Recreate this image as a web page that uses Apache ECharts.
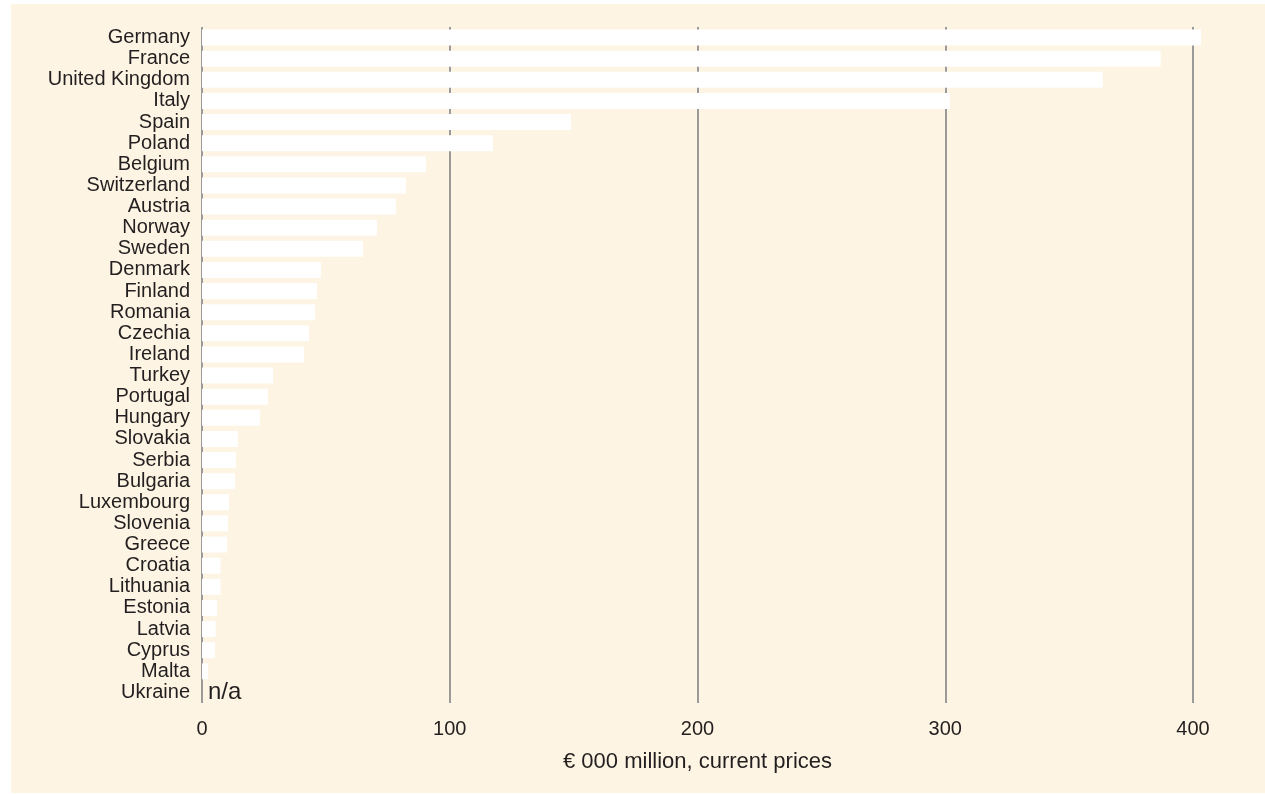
<!DOCTYPE html>
<html>
<head>
<meta charset="utf-8">
<script src="https://cdn.jsdelivr.net/npm/echarts@6/dist/echarts.min.js"></script>
<style>
  html, body { margin: 0; padding: 0; background: #ffffff; width: 1265px; height: 794px; overflow: hidden; }
  #chart { position: absolute; left: 11px; top: 4px; width: 1254px; height: 789px; }
</style>
</head>
<body>
<div id="chart"></div>
<script>
const countries = ["Germany", "France", "United Kingdom", "Italy", "Spain", "Poland", "Belgium", "Switzerland", "Austria", "Norway", "Sweden", "Denmark", "Finland", "Romania", "Czechia", "Ireland", "Turkey", "Portugal", "Hungary", "Slovakia", "Serbia", "Bulgaria", "Luxembourg", "Slovenia", "Greece", "Croatia", "Lithuania", "Estonia", "Latvia", "Cyprus", "Malta", "Ukraine"];
const values = [403.2, 387.0, 363.6, 301.9, 148.9, 117.4, 90.4, 82.3, 78.3, 70.6, 65.0, 48.0, 46.4, 45.6, 43.2, 41.2, 28.7, 26.6, 23.4, 14.5, 13.7, 13.3, 10.9, 10.5, 10.1, 7.5, 7.5, 6.1, 5.5, 5.2, 2.4, null];
const xTicks = [0, 100, 200, 300, 400];
const axisTitle = "€ 000 million, current prices";
const missingText = "n/a";

const FONT = "'Liberation Sans', Arial, sans-serif";
const TEXT = '#231f20';

const barData = values.map(v => v === null
  ? { value: 0, label: { show: true, position: 'right', distance: 6, formatter: missingText, fontSize: 24, color: TEXT, fontFamily: FONT } }
  : v);

const chart = echarts.init(document.getElementById('chart'), null, { renderer: 'canvas' });
chart.setOption({
  backgroundColor: '#fdf4e3',
  animation: false,
  textStyle: { fontFamily: FONT, color: TEXT },
  grid: { left: 191, right: 72, top: 23, bottom: 90, containLabel: false },
  xAxis: {
    type: 'value',
    min: xTicks[0],
    max: xTicks[xTicks.length - 1],
    interval: xTicks[1] - xTicks[0],
    axisLine: { show: false },
    axisTick: { show: false },
    axisLabel: { fontSize: 20, color: TEXT, margin: 16, fontFamily: FONT },
    splitLine: { show: true, lineStyle: { color: '#9a9a9a', width: 2 } },
    name: axisTitle,
    nameLocation: 'middle',
    nameGap: 48,
    nameTextStyle: { fontSize: 22, color: TEXT, fontFamily: FONT }
  },
  yAxis: {
    type: 'category',
    data: countries,
    inverse: true,
    axisLine: { show: false },
    axisTick: { show: false },
    axisLabel: { fontSize: 20, color: TEXT, margin: 12, fontFamily: FONT, interval: 0 },
    splitLine: { show: false }
  },
  series: [{
    type: 'bar',
    data: barData,
    barWidth: 16,
    clip: false,
    itemStyle: { color: '#ffffff' },
    silent: true
  }]
});
</script>
</body>
</html>
